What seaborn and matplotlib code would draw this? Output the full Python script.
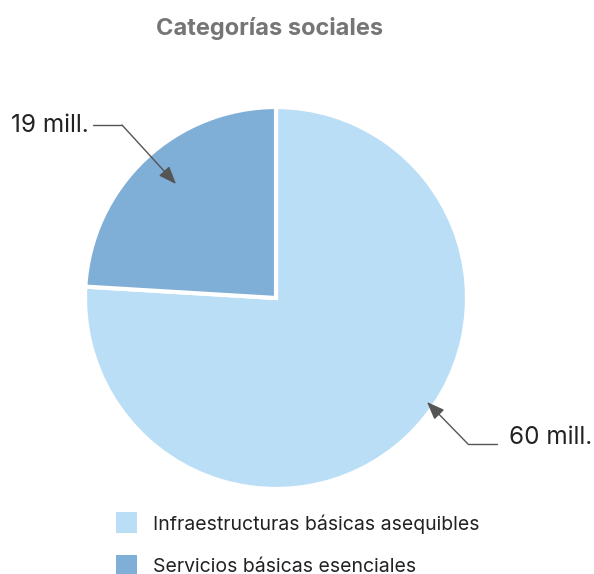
import matplotlib
matplotlib.use("Agg")
import matplotlib.pyplot as plt
import seaborn as sns
from matplotlib.patches import Rectangle

categories = ["Infraestructuras básicas asequibles", "Servicios básicas esenciales"]
values = [60, 19]
value_labels = ["60 mill.", "19 mill."]
colors = ["#BBDEF7", "#7FAED6"]
title = "Categorías sociales"

sns.set_theme(style="white")
plt.rcParams["font.family"] = ["Inter", "DejaVu Sans"]

W, H = 594, 574
fig = plt.figure(figsize=(W / 100, H / 100), dpi=100)
fig.patch.set_facecolor("white")

# pie occupies a square box of 382 px centred at (276, 298)
cx, cy, r = 276, 298, 191
ax = fig.add_axes([(cx - r) / W, (H - cy - r) / H, 2 * r / W, 2 * r / H])
wedges, _ = ax.pie(values, colors=colors, startangle=90, counterclock=False,
                   radius=1, wedgeprops=dict(edgecolor="white", linewidth=3))
ax.set_xlim(-1, 1)
ax.set_ylim(-1, 1)
ax.set_aspect("equal")
ax.axis("off")


def px(x, y):
    return ((x - cx) / r, (cy - y) / r)


def fx(x, y):
    return (x / W, 1 - y / H)


arrow = dict(arrowstyle="-|>,head_length=0.9,head_width=0.35", color="#555555",
             lw=1.0, shrinkA=0, shrinkB=0)

# label for the smaller slice: horizontal leader, then diagonal to the wedge
ax.plot(*zip(px(93, 125), px(122, 125)), color="#555555", lw=1.0, clip_on=False)
ax.annotate("", xy=px(176, 184), xytext=px(122, 125), arrowprops=arrow,
            annotation_clip=False)
ax.text(*px(89, 126), value_labels[1], ha="right", va="center", fontsize=17.5,
        color="#222222")

# label for the larger slice
ax.plot(*zip(px(468, 444), px(497, 444)), color="#555555", lw=1.0, clip_on=False)
ax.annotate("", xy=px(427, 402), xytext=px(468, 444), arrowprops=arrow,
            annotation_clip=False)
ax.text(*px(509, 438), value_labels[0], ha="left", va="center", fontsize=17.5,
        color="#222222")

fig.text(*fx(270, 28), title, ha="center", va="center", fontsize=17,
         fontweight="bold", color="#757575")

# legend: colour squares with labels, one row per category
for i, (lab, col) in enumerate(zip(categories, colors)):
    top = 512 + 43 * i
    x0, y0 = fx(116, top + 21)
    fig.add_artist(Rectangle((x0, y0), 21 / W, 21 / H, transform=fig.transFigure,
                             facecolor=col, edgecolor="none"))
    fig.text(*fx(153, top + 12), lab, ha="left", va="center", fontsize=14,
             color="#222222")

fig.savefig("out.png", dpi=100, facecolor="white")
